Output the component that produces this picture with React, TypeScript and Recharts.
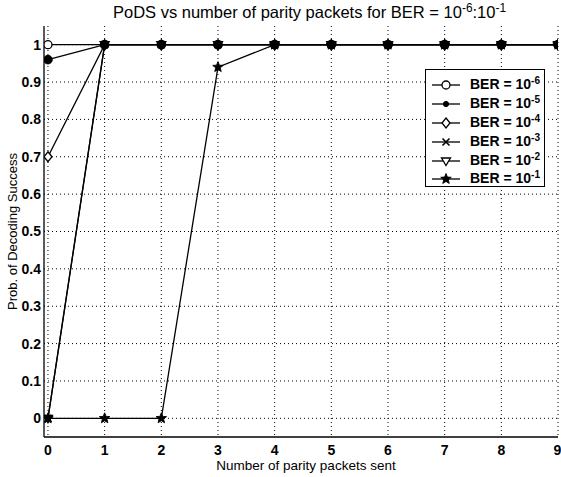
import React from "react";
import { LineChart, Line, XAxis, YAxis, CartesianGrid } from "recharts";

const packets = [0, 1, 2, 3, 4, 5, 6, 7, 8, 9];
const ber6 = [1, 1, 1, 1, 1, 1, 1, 1, 1, 1];
const ber5 = [0.96, 1, 1, 1, 1, 1, 1, 1, 1, 1];
const ber4 = [0.7, 1, 1, 1, 1, 1, 1, 1, 1, 1];
const ber3 = [0, 1, 1, 1, 1, 1, 1, 1, 1, 1];
const ber2 = [0, 1, 1, 1, 1, 1, 1, 1, 1, 1];
const ber1 = [0, 0, 0, 0.94, 1, 1, 1, 1, 1, 1];
const xTicks = [0, 1, 2, 3, 4, 5, 6, 7, 8, 9];
const yTicks = [0, 0.1, 0.2, 0.3, 0.4, 0.5, 0.6, 0.7, 0.8, 0.9, 1];
const legendExps = ["-6", "-5", "-4", "-3", "-2", "-1"];
const seriesKeys = ["b6", "b5", "b4", "b3", "b2", "b1"];
const markers = ["circle", "dot", "diamond", "x", "tri", "star"];
const drawOrder = [0, 2, 4, 3, 1, 5];

const data = packets.map((p, i) => ({
  x: p,
  b6: ber6[i],
  b5: ber5[i],
  b4: ber4[i],
  b3: ber3[i],
  b2: ber2[i],
  b1: ber1[i],
}));

const FONT = "'Liberation Sans', Arial, sans-serif";

function starPath(cx: number, cy: number, R: number, r: number) {
  let d = "";
  for (let i = 0; i < 10; i++) {
    const ang = -Math.PI / 2 + (i * Math.PI) / 5;
    const rad = i % 2 === 0 ? R : r;
    d += (i === 0 ? "M" : "L") + (cx + rad * Math.cos(ang)).toFixed(2) + "," + (cy + rad * Math.sin(ang)).toFixed(2);
  }
  return d + "Z";
}

function Marker({ type, cx, cy, legend }: { type: string; cx: number; cy: number; legend?: boolean }) {
  const s = "#000";
  switch (type) {
    case "circle":
      return <circle cx={cx} cy={cy} r={4} fill="#fff" stroke={s} strokeWidth={1.3} />;
    case "dot":
      return <circle cx={cx} cy={cy} r={legend ? 2.6 : 4.3} fill={s} stroke={s} />;
    case "diamond":
      return (
        <path
          d={`M${cx},${cy - 5}L${cx + 4},${cy}L${cx},${cy + 5}L${cx - 4},${cy}Z`}
          fill="#fff"
          stroke={s}
          strokeWidth={1.3}
        />
      );
    case "x":
      return (
        <path
          d={`M${cx - 3.5},${cy - 3.5}L${cx + 3.5},${cy + 3.5}M${cx - 3.5},${cy + 3.5}L${cx + 3.5},${cy - 3.5}`}
          stroke={s}
          strokeWidth={1.6}
          fill="none"
        />
      );
    case "tri":
      return (
        <path
          d={`M${cx - 4.5},${cy - 3}L${cx + 4.5},${cy - 3}L${cx},${cy + 4.5}Z`}
          fill="#fff"
          stroke={s}
          strokeWidth={1.3}
        />
      );
    case "star":
      return <path d={starPath(cx, cy, 5.5, 2.4)} fill={s} stroke={s} strokeWidth={0.9} />;
    default:
      return null;
  }
}

const makeDot = (type: string) => (props: any) => {
  const { cx, cy, index } = props;
  if (cx == null || cy == null) return <g key={index} />;
  return (
    <g key={index}>
      <Marker type={type} cx={cx} cy={cy} />
    </g>
  );
};

const Sup = ({ children }: { children: React.ReactNode }) => (
  <span style={{ fontSize: "0.72em", position: "relative", top: "-0.5em" }}>{children}</span>
);

export default function App() {
  return (
    <div
      style={{
        position: "absolute",
        left: 0,
        top: 0,
        width: 561,
        height: 477,
        background: "#fff",
        fontFamily: FONT,
      }}
    >
      <div
        style={{
          position: "absolute",
          left: 0,
          width: 561,
          top: 2,
          textAlign: "center",
          fontSize: 16.5,
          lineHeight: "20px",
          color: "#000",
          paddingLeft: 58,
          boxSizing: "border-box",
          whiteSpace: "nowrap",
        }}
      >
        PoDS vs number of parity packets for BER = 10<Sup>-6</Sup>:10<Sup>-1</Sup>
      </div>
      <LineChart
        width={561}
        height={477}
        data={data}
        margin={{ top: 26, right: 3, bottom: 20, left: 0 }}
        style={{ position: "absolute", left: 0, top: 0 }}
      >
        <CartesianGrid
          stroke="#000"
          strokeDasharray="1 3"
          strokeWidth={1}
          horizontalValues={yTicks}
          verticalValues={xTicks}
        />
        <XAxis
          dataKey="x"
          type="number"
          domain={[-0.07, 9]}
          ticks={xTicks}
          allowDataOverflow
          height={20}
          tickLine={false}
          axisLine={{ stroke: "#000", strokeWidth: 1.3 }}
          tick={{ fill: "#000", fontSize: 14, fontWeight: "bold", fontFamily: FONT }}
          tickMargin={2}
          label={{
            value: "Number of parity packets sent",
            position: "insideBottom",
            offset: -13,
            dx: 5,
            fill: "#000",
            fontSize: 13.5,
            fontFamily: FONT,
          }}
        />
        <XAxis
          xAxisId="top"
          dataKey="x"
          type="number"
          orientation="top"
          domain={[-0.07, 9]}
          ticks={xTicks}
          height={0}
          tick={false}
          tickLine={false}
          axisLine={{ stroke: "#000", strokeWidth: 1.3 }}
        />
        <YAxis
          type="number"
          domain={[-0.05, 1.05]}
          ticks={yTicks}
          allowDataOverflow
          width={44}
          tickLine={false}
          tickSize={2}
          axisLine={{ stroke: "#000", strokeWidth: 1.3 }}
          tick={{ fill: "#000", fontSize: 14, fontWeight: "bold", fontFamily: FONT }}
          tickMargin={1}
          tickFormatter={(v: number) => (v === 0 || v === 1 ? String(v) : v.toFixed(1))}
          label={{
            value: "Prob. of Decoding Success",
            angle: -90,
            position: "insideLeft",
            offset: 12,
            style: { textAnchor: "middle" },
            fill: "#000",
            fontSize: 13,
            fontFamily: FONT,
          }}
        />
        <YAxis
          yAxisId="right"
          orientation="right"
          domain={[-0.05, 1.05]}
          width={0}
          tick={false}
          tickLine={false}
          axisLine={{ stroke: "#000", strokeWidth: 1.3 }}
        />
        {drawOrder.map((i) => (
          <Line
            key={seriesKeys[i]}
            dataKey={seriesKeys[i]}
            type="linear"
            stroke="#000"
            strokeWidth={1.3}
            isAnimationActive={false}
            dot={makeDot(markers[i])}
            activeDot={false}
          />
        ))}
      </LineChart>
      <div
        style={{
          position: "absolute",
          left: 425,
          top: 69,
          width: 120,
          height: 118,
          border: "1.3px solid #000",
          background: "#fff",
          boxSizing: "border-box",
          paddingTop: 5,
        }}
      >
        {legendExps.map((e, i) => (
          <div
            key={e}
            style={{ display: "flex", alignItems: "center", height: 18.8, fontSize: 14, fontWeight: "bold", color: "#000" }}
          >
            <svg width={36} height={16} style={{ marginLeft: 4 }}>
              <line x1={2} y1={9} x2={30} y2={9} stroke="#000" strokeWidth={1.3} />
              <Marker type={markers[i]} cx={16} cy={9} legend />
            </svg>
            <span style={{ whiteSpace: "nowrap", marginLeft: 4 }}>
              BER = 10<Sup>{e}</Sup>
            </span>
          </div>
        ))}
      </div>
    </div>
  );
}
